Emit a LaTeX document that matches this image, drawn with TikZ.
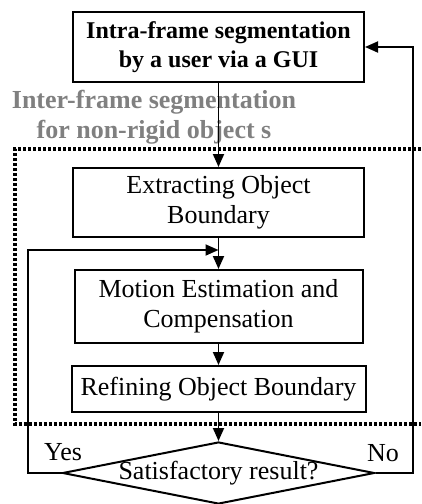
\documentclass[tikz,border=0pt]{standalone}
\usepackage{fontspec}
\setmainfont{Liberation Serif}
\usetikzlibrary{shapes.geometric,arrows.meta}
\tikzset{
	stepbox/.style={draw, line width=2pt, inner sep=0pt, align=center,
		font=\fontsize{26}{30}\selectfont},
	flow/.style={line width=1.8pt, -{Triangle[length=13pt,width=11pt]}},
}
\begin{document}
\begin{tikzpicture}[x=1pt, y=-1pt]
	\useasboundingbox (0,0) rectangle (421,504);
	\draw[line width=3.5pt, dash pattern=on 3pt off 2pt] (421,149) -- (15,149) -- (15,424) -- (421,424);
	\node[stepbox, minimum width=291pt, minimum height=70pt, font=\bfseries\fontsize{24}{29}\selectfont] (gui) at (218.5,47) {Intra-frame segmentation\\by a user via a GUI};
	\node[align=center, text=black!50, font=\bfseries\fontsize{26}{30}\selectfont] (inter) at (154,117) {Inter-frame segmentation\\for non-rigid object s};
	\node[stepbox, minimum width=291pt, minimum height=69pt] (extract) at (218.5,202.5) {Extracting Object\\Boundary};
	\node[stepbox, minimum width=288pt, minimum height=73pt] (motion) at (218.5,306.5) {Motion Estimation and\\Compensation};
	\node[stepbox, minimum width=294pt, minimum height=46pt] (refine) at (218.5,389) {Refining Object Boundary};
	\node[draw, diamond, line width=2pt, inner sep=0pt, minimum width=312pt, minimum height=62pt,
		label={[font=\fontsize{26}{30}\selectfont]center:Satisfactory result?}] (check) at (218.5,473) {};
	\node[font=\fontsize{26}{30}\selectfont] (yes) at (63,452) {Yes};
	\node[font=\fontsize{26}{30}\selectfont] (no) at (383,453) {No};
	\coordinate (join) at (218.5,250);
	\draw[flow] (gui) -- (extract);
	\draw[flow] (extract) -- (motion);
	\draw[flow] (motion) -- (refine);
	\draw[flow] (refine) -- (check);
	\draw[flow] (check.west) -- (28,473) -- (28,250) -- (join);
	\draw[flow] (check.east) -- (413,473) -- (413,47) -- (gui.east);
\end{tikzpicture}
\end{document}
